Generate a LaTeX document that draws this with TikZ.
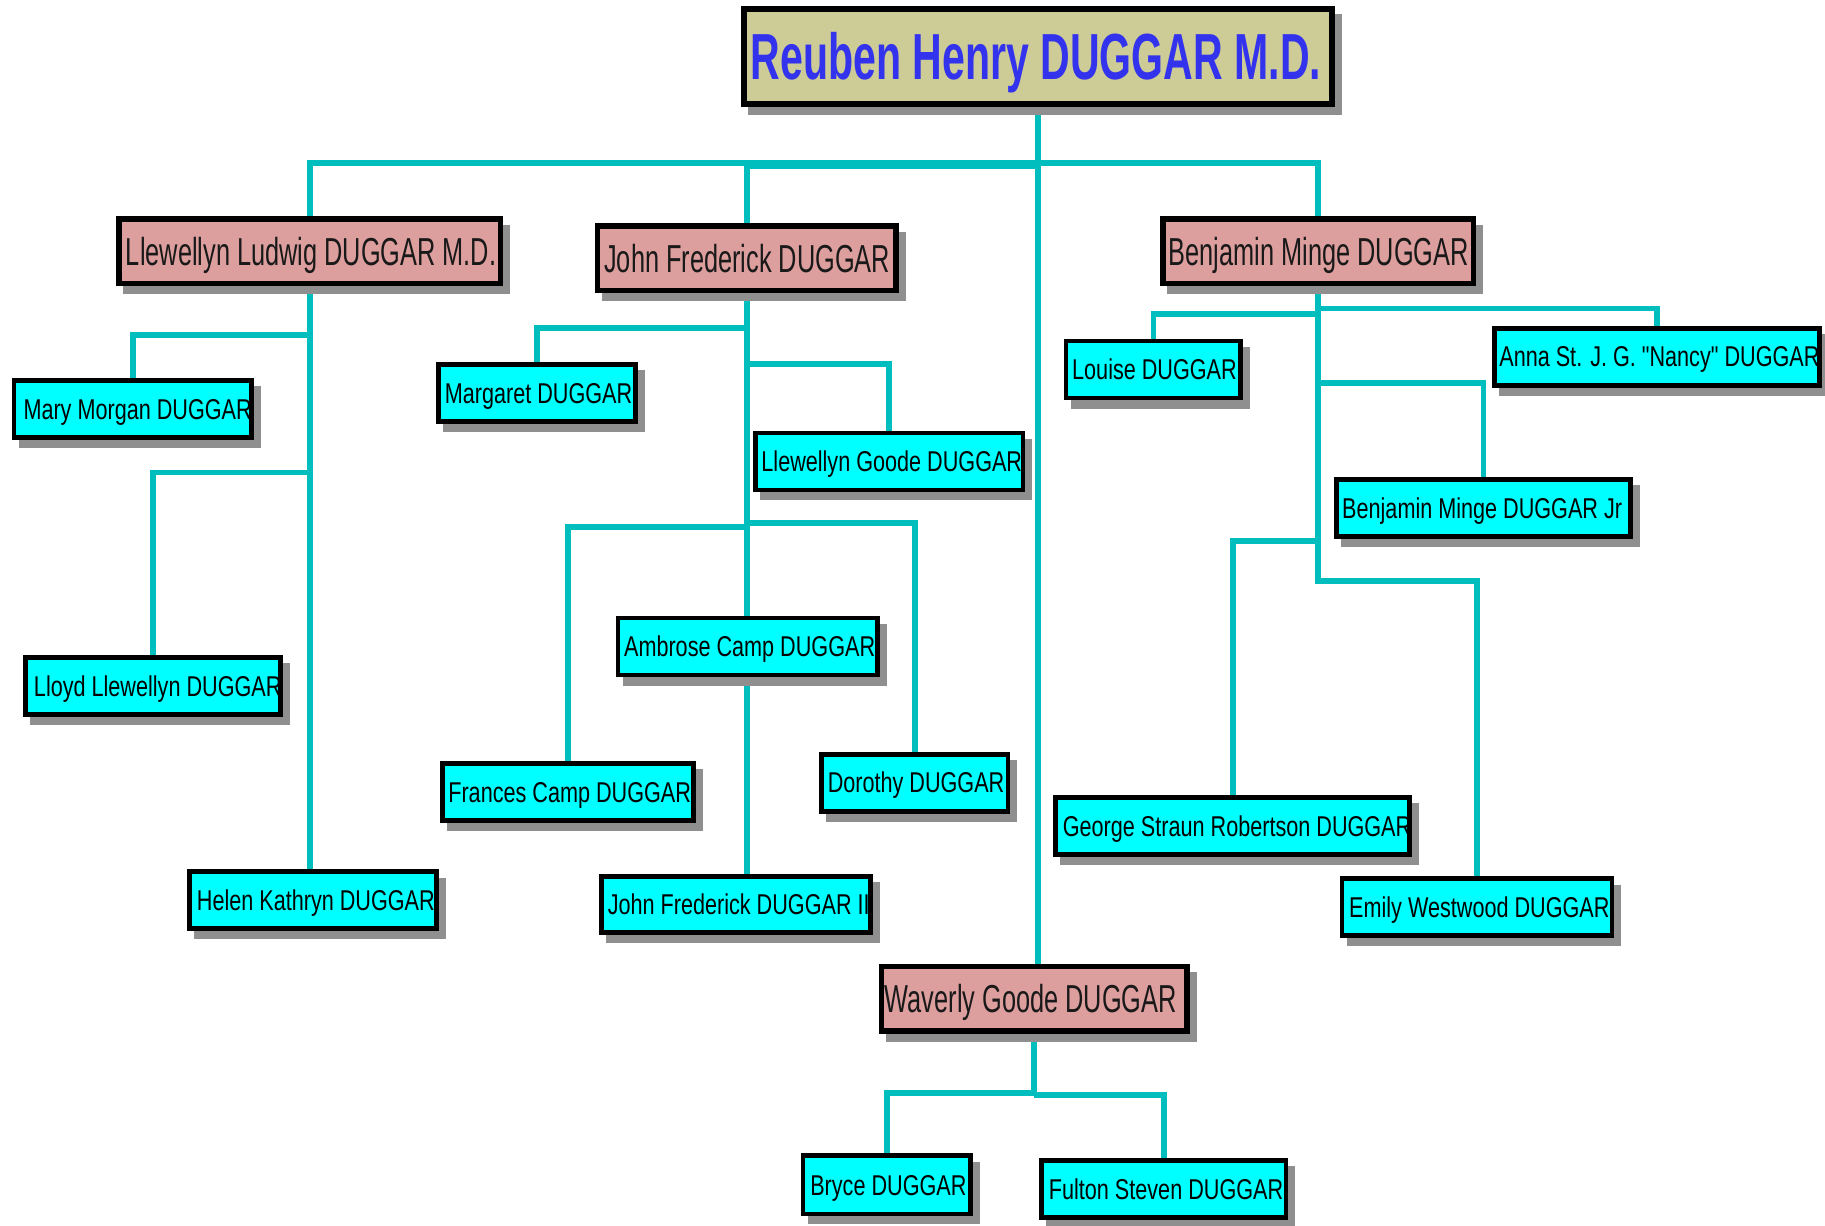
\documentclass[tikz,border=0pt]{standalone}
\usepackage{fontspec}
\newfontfamily\childfont[FakeStretch=0.755]{Liberation Sans}
\newfontfamily\pinkfont[FakeStretch=0.65]{Liberation Sans}
\newfontfamily\rootfont[FakeStretch=0.63]{Liberation Sans}
\usetikzlibrary{backgrounds}
\definecolor{conncol}{RGB}{0,190,190}
\definecolor{cyanbox}{RGB}{0,255,255}
\definecolor{pinkbox}{RGB}{221,158,158}
\definecolor{khaki}{RGB}{206,204,150}
\definecolor{rootblue}{RGB}{51,51,238}
\definecolor{shgray}{RGB}{143,143,143}
\begin{document}
\begin{tikzpicture}[x=1pt,y=-1pt,
  box/.style={draw=black, rectangle, inner sep=0pt,
    preaction={fill=shgray, draw=shgray, transform canvas={shift={(6pt,-7pt)}}}},
  kid/.style={box, fill=cyanbox, line width=4pt, minimum height=49pt},
  son/.style={box, fill=pinkbox, line width=4.5pt, minimum height=55.5pt},
  rootbox/.style={box, fill=khaki, line width=5pt, minimum height=82pt, minimum width=505pt},
  kidtxt/.style={anchor=west, inner sep=0pt, text=black,
    font=\childfont\fontsize{24.6}{28}\selectfont, text height=17.6pt, text depth=0pt},
  sontxt/.style={anchor=west, inner sep=0pt, text=black!90,
    font=\pinkfont\fontsize{33.5}{38}\selectfont, text height=24pt, text depth=0pt},
  roottxt/.style={anchor=west, inner sep=0pt, text=rootblue,
    font=\rootfont\bfseries\fontsize{56}{64}\selectfont, text height=40pt, text depth=0pt},
  link/.style={draw=conncol, line width=5pt}
]
\useasboundingbox (0,0) rectangle (1568,1052.5);

% ---- boxes ----
\node[rootbox] (root) at (892,48.5) {};
\node[roottxt] (root-t) at ([xshift=8pt]root.west) {Reuben Henry DUGGAR M.D.};

\node[son, minimum width=327.5pt] (llew) at (266,216) {};
\node[sontxt] (llew-t) at ([xshift=8pt]llew.west) {Llewellyn Ludwig DUGGAR M.D.};
\node[son, minimum width=256.5pt] (johnf) at (641.5,222) {};
\node[sontxt] (johnf-t) at ([xshift=8pt]johnf.west) {John Frederick DUGGAR};
\node[son, minimum width=266.5pt] (benj) at (1132.5,216) {};
\node[sontxt] (benj-t) at ([xshift=7pt]benj.west) {Benjamin Minge DUGGAR};
\node[son, minimum width=262.5pt] (waverly) at (888.5,858) {};
\node[sontxt] (waverly-t) at ([xshift=5pt]waverly.west) {Waverly Goode DUGGAR};

\node[kid, minimum width=204pt] (mary) at (114,351.5) {};
\node[kidtxt] (mary-t) at ([xshift=10pt]mary.west) {Mary Morgan DUGGAR};
\node[kid, minimum width=219pt] (lloyd) at (131.5,589.5) {};
\node[kidtxt] (lloyd-t) at ([xshift=9pt]lloyd.west) {Lloyd Llewellyn DUGGAR};
\node[kid, minimum width=212pt] (helen) at (269,773.5) {};
\node[kidtxt] (helen-t) at ([xshift=8pt]helen.west) {Helen Kathryn DUGGAR};

\node[kid, minimum width=169pt] (margaret) at (461.5,337.5) {};
\node[kidtxt] (margaret-t) at ([xshift=7pt]margaret.west) {Margaret DUGGAR};
\node[kid, minimum width=230pt] (llewg) at (764,396.5) {};
\node[kidtxt] (llewg-t) at ([xshift=7pt]llewg.west) {Llewellyn Goode DUGGAR};
\node[kid, minimum width=216pt] (frances) at (488,680.5) {};
\node[kidtxt] (frances-t) at ([xshift=7pt]frances.west) {Frances Camp DUGGAR};
\node[kid, minimum width=160pt] (dorothy) at (786,672.5) {};
\node[kidtxt] (dorothy-t) at ([xshift=7pt]dorothy.west) {Dorothy DUGGAR};
\node[kid, minimum width=223pt] (ambrose) at (642.5,555.5) {};
\node[kidtxt] (ambrose-t) at ([xshift=7pt]ambrose.west) {Ambrose Camp DUGGAR};
\node[kid, minimum width=231pt, minimum height=48pt] (jf2) at (632.5,777) {};
\node[kidtxt] (jf2-t) at ([xshift=7pt]jf2.west) {John Frederick DUGGAR II};

\node[kid, minimum width=150pt] (louise) at (991,317.5) {};
\node[kidtxt] (louise-t) at ([xshift=7pt]louise.west) {Louise DUGGAR};
\node[kid, minimum width=279pt] (anna) at (1423.5,306.5) {};
\node[kidtxt] (anna-t) at ([xshift=6pt]anna.west) {Anna St. J. G. "Nancy" DUGGAR};
\node[kid, minimum width=253pt] (benjjr) at (1274.5,436.5) {};
\node[kidtxt] (benjjr-t) at ([xshift=7pt]benjjr.west) {Benjamin Minge DUGGAR Jr};
\node[kid, minimum width=304pt] (george) at (1059,709.5) {};
\node[kidtxt] (george-t) at ([xshift=8pt]george.west) {George Straun Robertson DUGGAR};
\node[kid, minimum width=232pt] (emily) at (1269,779.5) {};
\node[kidtxt] (emily-t) at ([xshift=8pt]emily.west) {Emily Westwood DUGGAR};

\node[kid, minimum width=144pt, minimum height=50pt] (bryce) at (762,1018) {};
\node[kidtxt] (bryce-t) at ([xshift=8pt]bryce.west) {Bryce DUGGAR};
\node[kid, minimum width=210pt] (fulton) at (1000,1021.5) {};
\node[kidtxt] (fulton-t) at ([xshift=8pt]fulton.west) {Fulton Steven DUGGAR};

% ---- connectors ----
\begin{scope}[on background layer]
\draw[link] (root.south) -- (root.south |- waverly.north);
\draw[link] (root.south |- 0,140) -| (llew.north);
\draw[link] (root.south |- 0,143) -| (johnf.north);
\draw[link] (root.south |- 0,140) -| (benj.north);

\draw[link] (llew.south) -- (llew.south |- helen.north);
\draw[link] (llew.south |- 0,288) -| (mary.north);
\draw[link] (llew.south |- 0,406) -| (lloyd.north);

\draw[link] (johnf.south) -- (johnf.south |- jf2.north);
\draw[link] (johnf.south |- 0,282) -| (margaret.north);
\draw[link] (johnf.south |- 0,313) -| (llewg.north);
\draw[link] (johnf.south |- 0,453) -| (frances.north);
\draw[link] (johnf.south |- 0,449) -| (dorothy.north);

\draw[link] (benj.south) -- (benj.south |- 0,499) -| (emily.north);
\draw[link] (benj.south |- 0,270) -| (louise.north);
\draw[link] (benj.south |- 0,265) -| (anna.north);
\draw[link] (benj.south |- 0,329) -| (benjjr.north);
\draw[link] (benj.south |- 0,465) -| (george.north);

\draw[link] (waverly.south) -- (waverly.south |- 0,940);
\draw[link] (waverly.south |- 0,939) -| (bryce.north);
\draw[link] (waverly.south |- 0,941) -| (fulton.north);
\end{scope}
\end{tikzpicture}
\end{document}
